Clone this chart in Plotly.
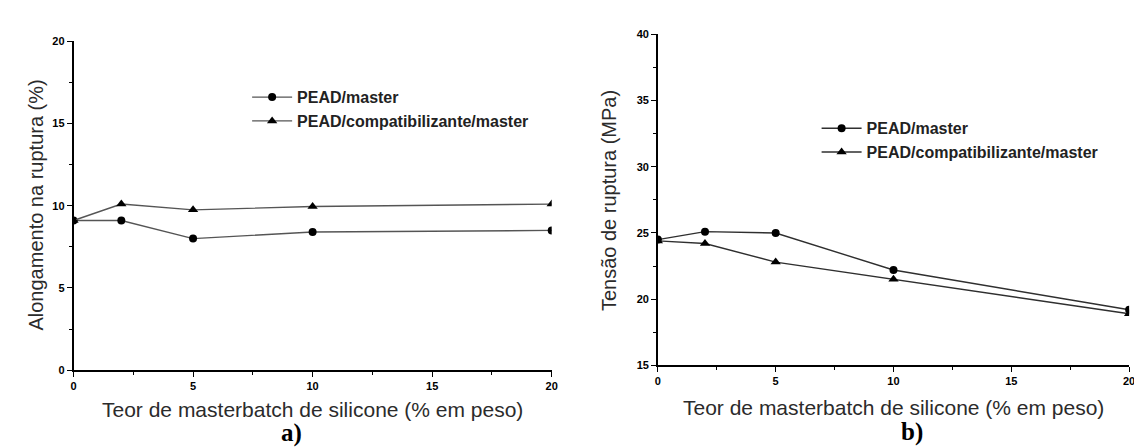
import plotly.graph_objects as go

# ---- data ----
x_teor = [0, 2, 5, 10, 20]
along_master = [9.1, 9.1, 8.0, 8.4, 8.5]
along_compat = [9.1, 10.1, 9.75, 9.95, 10.1]
tensao_master = [24.5, 25.1, 25.0, 22.2, 19.2]
tensao_compat = [24.4, 24.2, 22.8, 21.5, 18.9]
serie_names = ["PEAD/master", "PEAD/compatibilizante/master"]
x_title = "Teor de masterbatch de silicone (% em peso)"
ya_title = "Alongamento na ruptura (%)"
yb_title = "Tensão de ruptura (MPa)"

W, H = 1142, 448
def px(x): return x / W
def py(y): return 1 - y / H

fig = go.Figure()
line_a = "#555555"
line_b = "#2f2f2f"
fig.add_trace(go.Scatter(x=x_teor, y=along_master, name=serie_names[0], mode="lines+markers",
                         line=dict(color=line_a, width=1.4), marker=dict(symbol="circle", size=8, color="black"),
                         xaxis="x", yaxis="y", legend="legend"))
fig.add_trace(go.Scatter(x=x_teor, y=along_compat, name=serie_names[1], mode="lines+markers",
                         line=dict(color=line_a, width=1.4), marker=dict(symbol="triangle-up", size=9, color="black"),
                         xaxis="x", yaxis="y", legend="legend"))
fig.add_trace(go.Scatter(x=x_teor, y=tensao_master, name=serie_names[0], mode="lines+markers",
                         line=dict(color=line_b, width=1.4), marker=dict(symbol="circle", size=8, color="black"),
                         xaxis="x2", yaxis="y2", legend="legend2"))
fig.add_trace(go.Scatter(x=x_teor, y=tensao_compat, name=serie_names[1], mode="lines+markers",
                         line=dict(color=line_b, width=1.4), marker=dict(symbol="triangle-up", size=9, color="black"),
                         xaxis="x2", yaxis="y2", legend="legend2"))

tickfont = dict(family="Liberation Sans Narrow, Liberation Sans, Arial", size=11, color="black", weight="bold")
common = dict(showline=True, linecolor="black", linewidth=1.5, ticks="outside", ticklen=5,
              tickwidth=1.3, tickcolor="black", showgrid=False, zeroline=False, tickfont=tickfont,
              minor=dict(ticks="outside", ticklen=3, tickwidth=1, tickcolor="black", dtick=2.5))

legfont = dict(family="Liberation Sans, Arial", size=16, color="#222", weight="bold")
fig.update_layout(
    width=W, height=H, margin=dict(l=0, r=0, t=0, b=0),
    paper_bgcolor="white", plot_bgcolor="white", showlegend=True,
    xaxis=dict(domain=[px(63), px(545)], range=[0, 20], dtick=5, anchor="y", **common),
    yaxis=dict(domain=[py(366), py(28)], range=[0, 20], dtick=5, anchor="x", **common),
    xaxis2=dict(domain=[px(652), px(1127)], range=[0, 20], dtick=5, anchor="y2", **common),
    yaxis2=dict(domain=[py(361), py(21)], range=[15, 40], dtick=5, anchor="x2", **common),
    legend=dict(x=px(238), y=py(68), xanchor="left", yanchor="top", bgcolor="rgba(0,0,0,0)",
                font=legfont, tracegroupgap=0, itemwidth=40),
    legend2=dict(x=px(812), y=py(100), xanchor="left", yanchor="top", bgcolor="rgba(0,0,0,0)",
                 font=legfont, tracegroupgap=0, itemwidth=40),
)

xt_font = dict(family="Liberation Sans, Arial", size=21, color="#2b2b2b")
yt_font = dict(family="Liberation Sans, Arial", size=20, color="#2b2b2b")
def note(text, x, y, font, angle=0):
    return dict(text=text, x=px(x), y=py(y), xref="paper", yref="paper", showarrow=False,
                xanchor="center", yanchor="middle", textangle=angle, font=font)

serif = dict(family="Liberation Serif, Times New Roman", size=25, color="black")
ann = [
    note(x_title, 304, 406, xt_font),
    note(x_title, 890, 404, xt_font),
    note(ya_title, 25, 196, yt_font, -90),
    note(yb_title, 603, 192, yt_font, -90),
    note("<b>a)</b>", 283, 431, serif),
    note("<b>b)</b>", 908, 430, serif),
]
fig.update_layout(annotations=ann)

fig.write_html("out.html")
